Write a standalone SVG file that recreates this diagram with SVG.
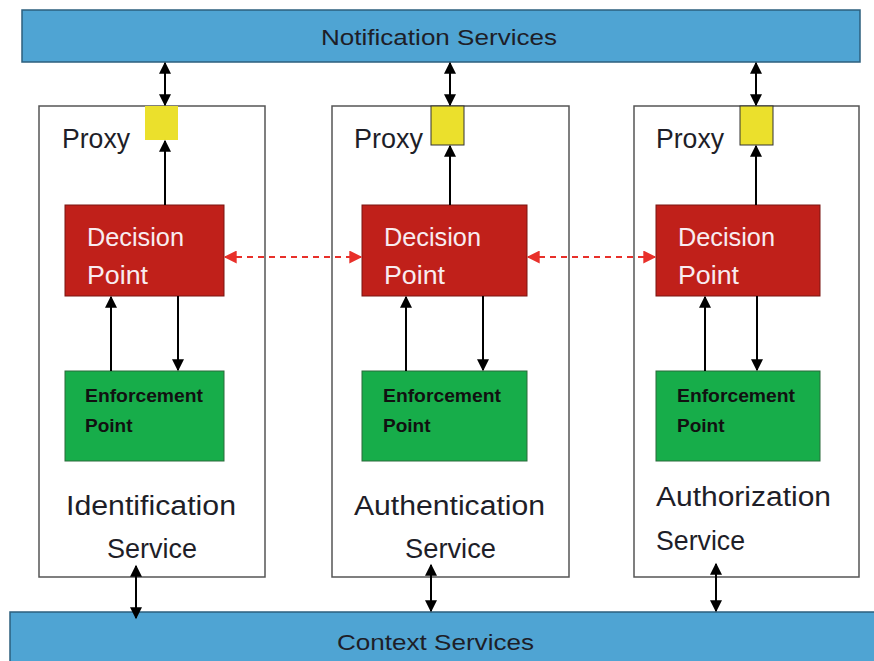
<svg xmlns="http://www.w3.org/2000/svg" width="874" height="661" viewBox="0 0 874 661">
  <defs>
    <marker id="ah" viewBox="0 0 10 10" refX="9" refY="5" markerWidth="14" markerHeight="12" markerUnits="userSpaceOnUse" orient="auto-start-reverse">
      <path d="M0,0 L10,5 L0,10 z" fill="#000"/>
    </marker>
    <marker id="ahr" viewBox="0 0 10 10" refX="9" refY="5" markerWidth="15" markerHeight="13" markerUnits="userSpaceOnUse" orient="auto-start-reverse">
      <path d="M0,0 L10,5 L0,10 z" fill="#e8302a"/>
    </marker>
    <style>
      .bar { fill: #4fa4d3; stroke: #2c5f7e; stroke-width: 1.5; }
      .svc { fill: #fff; stroke: #555; stroke-width: 1.5; }
      .proxy { fill: #ebe02c; stroke: #333; stroke-width: 1; }
      .dp { fill: #c0201a; stroke: #7a1410; stroke-width: 1; }
      .ep { fill: #17ad4a; stroke: #2a6a3a; stroke-width: 1; }
      .t { font-family: "Liberation Sans", Arial, sans-serif; fill: #1e1e28; }
      .big { font-size: 27px; }
      .bartxt { font-size: 22px; }
      .dpt { font-family: "Liberation Sans", Arial, sans-serif; font-size: 25px; fill: #f8ecf0; }
      .ept { font-family: "Liberation Sans", Arial, sans-serif; font-size: 19px; font-weight: bold; fill: #111; }
      .conn { stroke: #000; stroke-width: 2; fill: none; }
      .dash { stroke: #e8302a; stroke-width: 2; stroke-dasharray: 6 5; fill: none; }
    </style>
  </defs>

  <!-- top bus -->
  <g id="notification">
    <rect class="bar" x="22" y="10" width="838" height="52"/>
    <text class="t bartxt" x="321" y="45" textLength="236" lengthAdjust="spacingAndGlyphs">Notification Services</text>
  </g>

  <!-- bottom bus -->
  <g id="context">
    <rect class="bar" x="10" y="612" width="870" height="52"/>
    <text class="t bartxt" x="337" y="650" textLength="197" lengthAdjust="spacingAndGlyphs">Context Services</text>
  </g>

  <!-- identification service column -->
  <g id="identification">
    <rect class="svc" x="39" y="106" width="226" height="471"/>
    <text class="t big" x="62" y="148" textLength="68" lengthAdjust="spacingAndGlyphs">Proxy</text>
    <text class="t big" x="66" y="515" textLength="170" lengthAdjust="spacingAndGlyphs">Identification</text>
    <text class="t big" x="107" y="558" textLength="90" lengthAdjust="spacingAndGlyphs">Service</text>
  </g>
  <g id="id-proxy"><rect x="145" y="106" width="33" height="34" fill="#ebe02c"/></g>
  <g id="id-decision">
    <rect class="dp" x="65" y="205" width="159" height="91"/>
    <text class="dpt" x="87" y="246" textLength="97" lengthAdjust="spacingAndGlyphs">Decision</text>
    <text class="dpt" x="87" y="284" textLength="61" lengthAdjust="spacingAndGlyphs">Point</text>
  </g>
  <g id="id-enforcement">
    <rect class="ep" x="65" y="371" width="159" height="90"/>
    <text class="ept" x="85" y="402" textLength="118" lengthAdjust="spacingAndGlyphs">Enforcement</text>
    <text class="ept" x="85" y="432">Point</text>
  </g>

  <!-- authentication service column -->
  <g id="authentication">
    <rect class="svc" x="332" y="106" width="237" height="471"/>
    <text class="t big" x="354" y="148" textLength="69" lengthAdjust="spacingAndGlyphs">Proxy</text>
    <text class="t big" x="354" y="515" textLength="191" lengthAdjust="spacingAndGlyphs">Authentication</text>
    <text class="t big" x="405" y="558" textLength="91" lengthAdjust="spacingAndGlyphs">Service</text>
  </g>
  <g id="auth-proxy"><rect class="proxy" x="431" y="106" width="33" height="39"/></g>
  <g id="auth-decision">
    <rect class="dp" x="362" y="205" width="165" height="91"/>
    <text class="dpt" x="384" y="246" textLength="97" lengthAdjust="spacingAndGlyphs">Decision</text>
    <text class="dpt" x="384" y="284" textLength="61" lengthAdjust="spacingAndGlyphs">Point</text>
  </g>
  <g id="auth-enforcement">
    <rect class="ep" x="362" y="371" width="165" height="90"/>
    <text class="ept" x="383" y="402" textLength="118" lengthAdjust="spacingAndGlyphs">Enforcement</text>
    <text class="ept" x="383" y="432">Point</text>
  </g>

  <!-- authorization service column -->
  <g id="authorization">
    <rect class="svc" x="634" y="106" width="225" height="471"/>
    <text class="t big" x="656" y="148" textLength="68" lengthAdjust="spacingAndGlyphs">Proxy</text>
    <text class="t big" x="656" y="506" textLength="175" lengthAdjust="spacingAndGlyphs">Authorization</text>
    <text class="t big" x="656" y="550" textLength="89" lengthAdjust="spacingAndGlyphs">Service</text>
  </g>
  <g id="authz-proxy"><rect class="proxy" x="740" y="106" width="33" height="39"/></g>
  <g id="authz-decision">
    <rect class="dp" x="656" y="205" width="164" height="91"/>
    <text class="dpt" x="678" y="246" textLength="97" lengthAdjust="spacingAndGlyphs">Decision</text>
    <text class="dpt" x="678" y="284" textLength="61" lengthAdjust="spacingAndGlyphs">Point</text>
  </g>
  <g id="authz-enforcement">
    <rect class="ep" x="656" y="371" width="164" height="90"/>
    <text class="ept" x="677" y="402" textLength="118" lengthAdjust="spacingAndGlyphs">Enforcement</text>
    <text class="ept" x="677" y="432">Point</text>
  </g>

  <g id="connectors">
    <!-- notification bus <-> proxies -->
    <line class="conn" x1="165" y1="63" x2="165" y2="105" marker-start="url(#ah)" marker-end="url(#ah)"/>
    <line class="conn" x1="450" y1="63" x2="450" y2="105" marker-start="url(#ah)" marker-end="url(#ah)"/>
    <line class="conn" x1="756" y1="63" x2="756" y2="105" marker-start="url(#ah)" marker-end="url(#ah)"/>
    <!-- decision point -> proxy -->
    <line class="conn" x1="165" y1="205" x2="165" y2="141" marker-end="url(#ah)"/>
    <line class="conn" x1="450" y1="205" x2="450" y2="146" marker-end="url(#ah)"/>
    <line class="conn" x1="756" y1="205" x2="756" y2="146" marker-end="url(#ah)"/>
    <!-- enforcement -> decision -->
    <line class="conn" x1="111" y1="371" x2="111" y2="297" marker-end="url(#ah)"/>
    <line class="conn" x1="406" y1="371" x2="406" y2="297" marker-end="url(#ah)"/>
    <line class="conn" x1="705" y1="371" x2="705" y2="297" marker-end="url(#ah)"/>
    <!-- decision -> enforcement -->
    <line class="conn" x1="178" y1="296" x2="178" y2="370" marker-end="url(#ah)"/>
    <line class="conn" x1="483" y1="296" x2="483" y2="370" marker-end="url(#ah)"/>
    <line class="conn" x1="757" y1="296" x2="757" y2="370" marker-end="url(#ah)"/>
    <!-- services <-> context bus -->
    <line class="conn" x1="136" y1="566" x2="136" y2="618" marker-start="url(#ah)" marker-end="url(#ah)"/>
    <line class="conn" x1="431" y1="565" x2="431" y2="611" marker-start="url(#ah)" marker-end="url(#ah)"/>
    <line class="conn" x1="716" y1="564" x2="716" y2="611" marker-start="url(#ah)" marker-end="url(#ah)"/>
    <!-- decision point peer links -->
    <line class="dash" x1="225" y1="257" x2="361" y2="257" marker-start="url(#ahr)" marker-end="url(#ahr)"/>
    <line class="dash" x1="528" y1="257" x2="655" y2="257" marker-start="url(#ahr)" marker-end="url(#ahr)"/>
  </g>
</svg>
